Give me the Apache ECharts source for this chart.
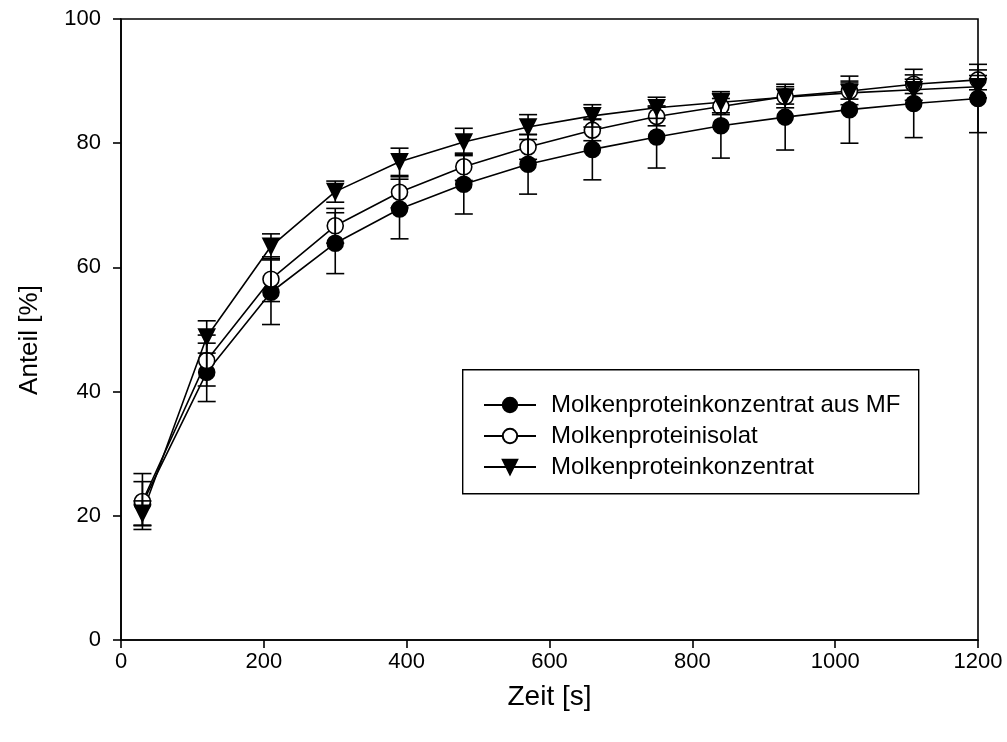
<!DOCTYPE html>
<html>
<head>
<meta charset="utf-8">
<script src="https://cdn.jsdelivr.net/npm/echarts@6/dist/echarts.min.js"></script>
<style>html,body{margin:0;padding:0;background:#fff}#c{width:1007px;height:742px}</style>
</head>
<body>
<div id="c"></div>
<script>
const times = [30, 120, 210, 300, 390, 480, 570, 660, 750, 840, 930, 1020, 1110, 1200];
const seriesNames = ['Molkenproteinkonzentrat aus MF', 'Molkenproteinisolat', 'Molkenproteinkonzentrat'];
const mfMean = [22.0, 43.1, 56.0, 63.9, 69.4, 73.4, 76.6, 79.0, 81.0, 82.8, 84.2, 85.4, 86.4, 87.2];
const mfSd   = [3.5, 4.7, 5.2, 4.9, 4.8, 4.8, 4.8, 4.9, 5.0, 5.2, 5.3, 5.4, 5.5, 5.5];
const isoMean = [22.3, 45.0, 58.1, 66.7, 72.1, 76.2, 79.4, 82.1, 84.3, 85.9, 87.5, 88.4, 89.5, 90.2];
const isoSd   = [4.5, 4.1, 3.6, 2.8, 2.5, 2.2, 2.0, 1.7, 1.5, 1.3, 1.2, 1.3, 1.5, 1.6];
const konMean = [20.4, 48.8, 63.4, 72.2, 77.0, 80.2, 82.6, 84.4, 85.7, 86.6, 87.4, 88.1, 88.6, 89.1];
const konSd   = [2.0, 2.6, 2.0, 1.7, 2.2, 2.2, 2.0, 1.8, 1.7, 1.7, 1.7, 1.9, 1.7, 1.8];
const xTicks = [0, 200, 400, 600, 800, 1000, 1200];
const yTicks = [0, 20, 40, 60, 80, 100];
const xTitle = 'Zeit [s]';
const yTitle = 'Anteil [%]';

const FONT = 'Liberation Sans, Arial, sans-serif';
const chart = echarts.init(document.getElementById('c'), null, {renderer: 'canvas'});

function pairs(means) { return times.map((t, i) => [t, means[i]]); }
function errData(means, sds) { return times.map((t, i) => [t, means[i] - sds[i], means[i] + sds[i]]); }

function errSeries(means, sds) {
  return {
    type: 'custom',
    silent: true,
    z: 5,
    data: errData(means, sds),
    renderItem: function (params, api) {
      const x = api.value(0);
      const lo = api.coord([x, api.value(1)]);
      const hi = api.coord([x, api.value(2)]);
      const hw = 9;
      const st = {stroke: '#000', lineWidth: 1.6};
      return {
        type: 'group',
        children: [
          {type: 'line', shape: {x1: lo[0], y1: lo[1], x2: hi[0], y2: hi[1]}, style: st},
          {type: 'line', shape: {x1: lo[0] - hw, y1: lo[1], x2: lo[0] + hw, y2: lo[1]}, style: st},
          {type: 'line', shape: {x1: hi[0] - hw, y1: hi[1], x2: hi[0] + hw, y2: hi[1]}, style: st}
        ]
      };
    },
    encode: {x: 0, y: [1, 2]}
  };
}

function lineSeries(name, means, symbol, fill, rotate, size) {
  return {
    name: name,
    type: 'line',
    data: pairs(means),
    symbol: symbol,
    symbolSize: size,
    symbolRotate: rotate,
    showAllSymbol: true,
    z: 3,
    lineStyle: {color: '#000', width: 1.6},
    itemStyle: {color: fill, borderColor: '#000', borderWidth: 1.6, opacity: 1},
    emphasis: {disabled: true}
  };
}

const option = {
  animation: false,
  backgroundColor: '#fff',
  grid: {left: 121, right: 29, top: 19, bottom: 102, show: true, borderColor: '#000', borderWidth: 1.6,
         containLabel: false, outerBoundsMode: 'none'},
  xAxis: {
    type: 'value', min: xTicks[0], max: xTicks[xTicks.length - 1], interval: 200,
    name: xTitle, nameLocation: 'middle', nameGap: 43,
    nameTextStyle: {fontFamily: FONT, fontSize: 28, color: '#000'},
    axisLine: {show: true, lineStyle: {color: '#000', width: 1.6}},
    axisTick: {show: true, length: 8, lineStyle: {color: '#000', width: 1.6}},
    axisLabel: {fontFamily: FONT, fontSize: 22, color: '#000', margin: 11, formatter: v => String(v)},
    splitLine: {show: false}
  },
  yAxis: {
    type: 'value', min: yTicks[0], max: yTicks[yTicks.length - 1], interval: 20,
    axisLine: {show: true, lineStyle: {color: '#000', width: 1.6}},
    axisTick: {show: true, length: 8, lineStyle: {color: '#000', width: 1.6}},
    axisLabel: {fontFamily: FONT, fontSize: 22, color: '#000', margin: 20, formatter: v => String(v)},
    splitLine: {show: false}
  },
  legend: {
    orient: 'vertical',
    left: 478, top: 388,
    itemWidth: 52, itemHeight: 18, itemGap: 7,
    textStyle: {fontFamily: FONT, fontSize: 24, color: '#000', padding: [0, 0, 0, 10]},
    data: seriesNames,
    selectedMode: false
  },
  graphic: [{
    type: 'rect', left: 462, top: 369, z: 1,
    shape: {width: 456, height: 124},
    style: {fill: '#fff', stroke: '#000', lineWidth: 1.4}
  }, {
    type: 'text', x: 30, y: 340, rotation: Math.PI / 2, z: 10,
    style: {text: yTitle, font: '26px ' + FONT, fill: '#000', align: 'center', verticalAlign: 'middle'}
  }],
  series: [
    lineSeries(seriesNames[0], mfMean, 'circle', '#000', 0, 16),
    lineSeries(seriesNames[1], isoMean, 'circle', '#fff', 0, 16),
    lineSeries(seriesNames[2], konMean, 'triangle', '#000', 180, 16),
    errSeries(mfMean, mfSd),
    errSeries(isoMean, isoSd),
    errSeries(konMean, konSd)
  ]
};
chart.setOption(option);
</script>
</body>
</html>
